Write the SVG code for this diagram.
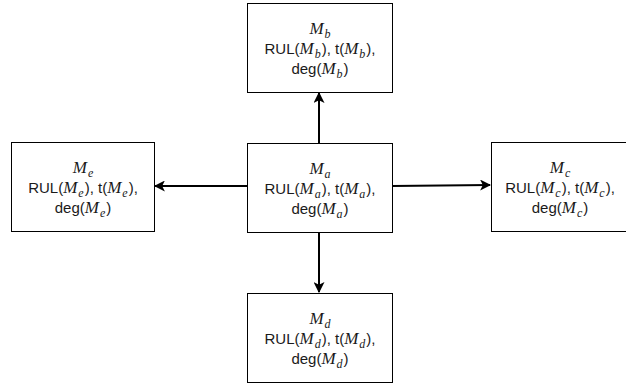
<svg xmlns="http://www.w3.org/2000/svg" width="626" height="386" viewBox="0 0 626 386">
<style>
.box{fill:#fff;stroke:#000;stroke-width:1}
.t{font-family:"Liberation Sans",Arial,sans-serif;font-size:15px;fill:#1a1a1a;text-anchor:middle}
.m{font-family:"Liberation Serif","Times New Roman",serif;font-style:italic;font-size:17px}
.s{font-family:"Liberation Serif","Times New Roman",serif;font-style:italic;font-size:12px}
.c{stroke:#000;stroke-width:2;fill:none}
</style>
<defs>
<marker id="ah" viewBox="0 0 10 10" refX="9" refY="5" markerWidth="5.5" markerHeight="5.5" orient="auto" markerUnits="strokeWidth">
<path d="M0,0 L10,5 L0,10 L2.5,5 Z" fill="#000"/>
</marker>
</defs>
<g id="connectors">
<line class="c" x1="319" y1="143" x2="319" y2="93" marker-end="url(#ah)"/>
<line class="c" x1="319" y1="232" x2="319" y2="292" marker-end="url(#ah)"/>
<line class="c" x1="247" y1="186" x2="155" y2="186" marker-end="url(#ah)"/>
<line class="c" x1="392" y1="186" x2="490" y2="185" marker-end="url(#ah)"/>
</g>
<g id="node-b">
<rect class="box" x="247.5" y="3.5" width="145" height="89"/>
<text class="t" x="320" y="34"><tspan class="m">M</tspan><tspan class="s" dx="1" dy="4">b</tspan></text>
<text class="t" x="320" y="54">RUL(<tspan class="m">M</tspan><tspan class="s" dx="1" dy="4">b</tspan><tspan dx="1" dy="-4">), t(</tspan><tspan class="m">M</tspan><tspan class="s" dx="1" dy="4">b</tspan><tspan dx="1" dy="-4">),</tspan></text>
<text class="t" x="320" y="74">deg(<tspan class="m">M</tspan><tspan class="s" dx="1" dy="4">b</tspan><tspan dx="1" dy="-4">)</tspan></text>
</g>
<g id="node-a">
<rect class="box" x="247.5" y="143.5" width="145" height="89"/>
<text class="t" x="320" y="174"><tspan class="m">M</tspan><tspan class="s" dx="1" dy="4">a</tspan></text>
<text class="t" x="320" y="194">RUL(<tspan class="m">M</tspan><tspan class="s" dx="1" dy="4">a</tspan><tspan dx="1" dy="-4">), t(</tspan><tspan class="m">M</tspan><tspan class="s" dx="1" dy="4">a</tspan><tspan dx="1" dy="-4">),</tspan></text>
<text class="t" x="320" y="214">deg(<tspan class="m">M</tspan><tspan class="s" dx="1" dy="4">a</tspan><tspan dx="1" dy="-4">)</tspan></text>
</g>
<g id="node-e">
<rect class="box" x="11.5" y="142.5" width="143" height="89"/>
<text class="t" x="83" y="173"><tspan class="m">M</tspan><tspan class="s" dx="1" dy="4">e</tspan></text>
<text class="t" x="83" y="193">RUL(<tspan class="m">M</tspan><tspan class="s" dx="1" dy="4">e</tspan><tspan dx="1" dy="-4">), t(</tspan><tspan class="m">M</tspan><tspan class="s" dx="1" dy="4">e</tspan><tspan dx="1" dy="-4">),</tspan></text>
<text class="t" x="83" y="213">deg(<tspan class="m">M</tspan><tspan class="s" dx="1" dy="4">e</tspan><tspan dx="1" dy="-4">)</tspan></text>
</g>
<g id="node-c">
<rect class="box" x="491.5" y="142.5" width="145" height="89"/>
<text class="t" x="560" y="173"><tspan class="m">M</tspan><tspan class="s" dx="1" dy="4">c</tspan></text>
<text class="t" x="560" y="193">RUL(<tspan class="m">M</tspan><tspan class="s" dx="1" dy="4">c</tspan><tspan dx="1" dy="-4">), t(</tspan><tspan class="m">M</tspan><tspan class="s" dx="1" dy="4">c</tspan><tspan dx="1" dy="-4">),</tspan></text>
<text class="t" x="560" y="213">deg(<tspan class="m">M</tspan><tspan class="s" dx="1" dy="4">c</tspan><tspan dx="1" dy="-4">)</tspan></text>
</g>
<g id="node-d">
<rect class="box" x="247.5" y="293.5" width="145" height="89"/>
<text class="t" x="320" y="324"><tspan class="m">M</tspan><tspan class="s" dx="1" dy="4">d</tspan></text>
<text class="t" x="320" y="344">RUL(<tspan class="m">M</tspan><tspan class="s" dx="1" dy="4">d</tspan><tspan dx="1" dy="-4">), t(</tspan><tspan class="m">M</tspan><tspan class="s" dx="1" dy="4">d</tspan><tspan dx="1" dy="-4">),</tspan></text>
<text class="t" x="320" y="364">deg(<tspan class="m">M</tspan><tspan class="s" dx="1" dy="4">d</tspan><tspan dx="1" dy="-4">)</tspan></text>
</g>
</svg>
